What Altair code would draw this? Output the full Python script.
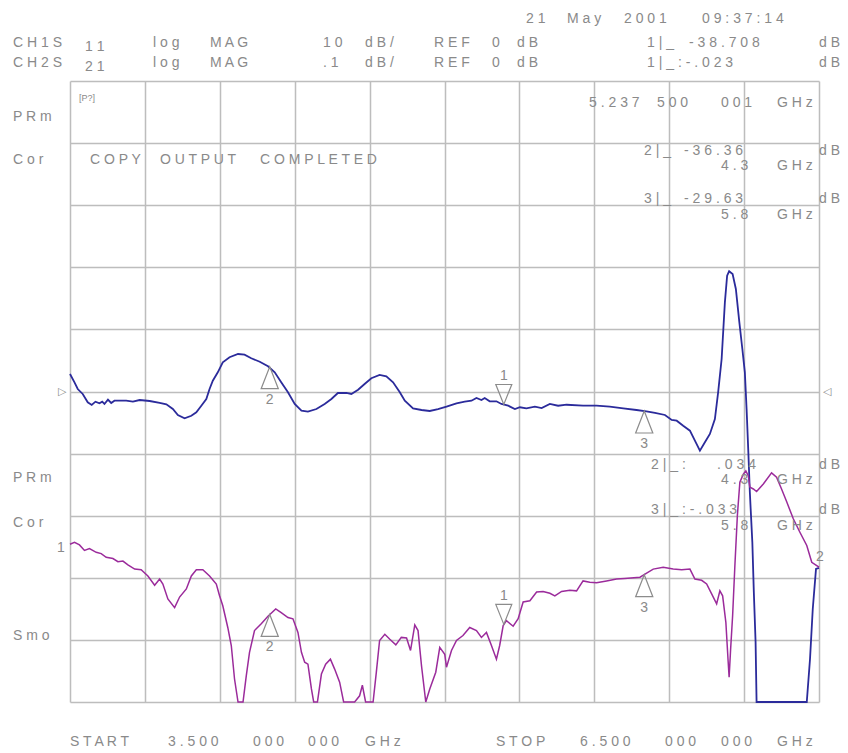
import altair as alt
import pandas as pd

# ---------------- data ----------------
# CH1: S11, log MAG, 10 dB/div, REF 0 dB (centre line)
s11_freq = [3.500, 3.518, 3.531, 3.551, 3.571, 3.587, 3.602, 3.618, 3.629, 3.638, 3.652, 3.665, 3.678,
            3.725, 3.752, 3.779, 3.819, 3.859, 3.886, 3.912, 3.932, 3.959, 3.986,
            4.006, 4.026, 4.046, 4.059, 4.072, 4.092, 4.112, 4.139, 4.173, 4.199,
            4.226, 4.260, 4.293, 4.320, 4.346, 4.373, 4.400, 4.427, 4.453, 4.487,
            4.520, 4.547, 4.573, 4.607, 4.627, 4.654,
            4.680, 4.707, 4.740, 4.767, 4.794, 4.821, 4.841, 4.874, 4.908, 4.941,
            4.974, 5.008, 5.048, 5.081, 5.108, 5.128, 5.148, 5.161, 5.181, 5.208,
            5.228, 5.255, 5.282, 5.302, 5.328, 5.362, 5.389, 5.422, 5.455, 5.489,
            5.555, 5.609, 5.662, 5.716, 5.769, 5.809,
            5.843, 5.883, 5.910, 5.930, 5.956, 5.983, 6.003, 6.023, 6.043, 6.063,
            6.083, 6.096, 6.110, 6.123, 6.132, 6.140, 6.154, 6.167, 6.181, 6.193,
            6.203, 6.210, 6.217, 6.223, 6.233, 6.239, 6.246, 6.250,
            6.451, 6.464, 6.475, 6.488, 6.500]
s11_db = [2.82, 1.48, 0.40, -0.40, -1.74, -2.17, -1.64, -1.90, -1.64, -2.01, -1.32, -1.85, -1.48,
          -1.48, -1.64, -1.37, -1.53, -1.85, -2.06, -2.82, -3.78, -4.32, -3.90,
          -3.35, -2.29, -1.21, 0.40, 1.74, 3.09, 4.70, 5.51, 6.04, 5.93,
          5.35, 4.80, 4.06, 3.09, 1.48, -0.13, -2.01, -3.09, -3.25, -2.82,
          -2.01, -1.21, -0.24, -0.24, -0.40, 0.29,
          1.21, 2.13, 2.66, 2.45, 1.48, -0.13, -1.48, -2.71, -2.98, -3.14,
          -2.82, -2.45, -1.90, -1.64, -1.48, -1.05, -1.37, -1.05, -1.58, -1.58,
          -2.01, -2.29, -2.82, -2.54, -2.71, -2.45, -2.66, -2.01, -2.29, -2.13,
          -2.29, -2.29, -2.45, -2.71, -2.98, -3.19,
          -3.46, -3.78, -4.59, -4.70, -5.51, -6.31, -7.92, -9.53, -8.18, -6.84,
          -4.43, -0.13, 5.23, 14.36, 18.65, 19.36, 18.92, 16.51, 11.14, 6.84,
          3.09, -2.82, -9.79, -16.23, -24.28, -32.34, -40.39, -50.0,
          -50.0, -43.08, -35.02, -28.58, -28.40]

# CH2: S21, log MAG, .1 dB/div, REF 0 dB (centre line); -0.5 dB = bottom of screen
s21_freq = [3.500, 3.518, 3.538, 3.558, 3.578, 3.605, 3.625, 3.645, 3.672, 3.692,
            3.712, 3.732, 3.759, 3.785, 3.812, 3.839, 3.859, 3.872, 3.892, 3.919,
            3.939, 3.966, 3.986, 4.006, 4.032, 4.059, 4.086, 4.099, 4.112, 4.132,
            4.146, 4.159, 4.173, 4.193, 4.206, 4.219, 4.239, 4.266, 4.293, 4.324,
            4.346, 4.373, 4.393, 4.413, 4.427, 4.440, 4.453, 4.467, 4.476, 4.491,
            4.507, 4.524, 4.543, 4.560, 4.580, 4.596, 4.640, 4.660, 4.671, 4.684,
            4.714, 4.727, 4.740, 4.761, 4.781, 4.805, 4.827, 4.848, 4.864, 4.881,
            4.894, 4.908, 4.925, 4.941, 4.965, 4.981, 5.001, 5.008, 5.028, 5.048,
            5.074, 5.101, 5.128, 5.148, 5.168, 5.188, 5.208, 5.221, 5.235, 5.248,
            5.275, 5.295, 5.315, 5.342, 5.369, 5.395, 5.422, 5.442, 5.469, 5.502,
            5.529, 5.555, 5.582, 5.609, 5.649, 5.689, 5.722, 5.783, 5.803, 5.836,
            5.876, 5.916, 5.950, 5.983, 6.003, 6.030, 6.050, 6.070, 6.090, 6.103,
            6.114, 6.127, 6.136, 6.140, 6.146, 6.154, 6.163, 6.173, 6.183, 6.197,
            6.207, 6.217, 6.223, 6.237, 6.250, 6.277, 6.310, 6.330, 6.350, 6.371,
            6.397, 6.424, 6.451, 6.471, 6.500]
s21_db = [-0.246, -0.243, -0.247, -0.256, -0.253, -0.259, -0.261, -0.267, -0.269, -0.274,
          -0.273, -0.279, -0.286, -0.287, -0.297, -0.312, -0.302, -0.310, -0.334, -0.348,
          -0.331, -0.318, -0.297, -0.287, -0.287, -0.297, -0.310, -0.329, -0.345, -0.380,
          -0.409, -0.463, -0.500, -0.500, -0.458, -0.420, -0.385, -0.374, -0.362, -0.350,
          -0.356, -0.364, -0.366, -0.388, -0.420, -0.436, -0.439, -0.479, -0.500, -0.500,
          -0.455, -0.439, -0.431, -0.447, -0.468, -0.500, -0.500, -0.490, -0.473, -0.500,
          -0.500, -0.452, -0.401, -0.391, -0.399, -0.408, -0.396, -0.397, -0.417, -0.376,
          -0.385, -0.442, -0.500, -0.479, -0.452, -0.412, -0.423, -0.444, -0.417, -0.401,
          -0.393, -0.380, -0.385, -0.396, -0.388, -0.409, -0.431, -0.409, -0.377, -0.369,
          -0.378, -0.366, -0.339, -0.337, -0.323, -0.322, -0.325, -0.329, -0.322, -0.320,
          -0.321, -0.305, -0.307, -0.308, -0.305, -0.302, -0.301, -0.299, -0.294, -0.286,
          -0.283, -0.286, -0.287, -0.286, -0.302, -0.304, -0.310, -0.326, -0.342, -0.321,
          -0.329, -0.372, -0.434, -0.460, -0.415, -0.361, -0.281, -0.200, -0.146, -0.133,
          -0.128, -0.136, -0.154, -0.157, -0.161, -0.149, -0.131, -0.138, -0.157, -0.178,
          -0.205, -0.227, -0.248, -0.275, -0.283]

# markers 1..3 (frequency in GHz, trace value at the marker)
marker_id = ["1", "2", "3"]
marker_freq = [5.2375, 4.3, 5.8]
marker_s11 = [-2.09, 4.0, -3.14]
marker_s21 = [-0.375, -0.359, -0.295]

# graticule: 10 x 10 divisions
x_grid = [3.5, 3.8, 4.1, 4.4, 4.7, 5.0, 5.3, 5.6, 5.9, 6.2, 6.5]
s11_grid = [-50, -40, -30, -20, -10, 0, 10, 20, 30, 40, 50]

# screen text (page x of left edge, page y of centre, text)
screen_text = [
    (526, 19, "2 1"), (567, 19, "M a y"), (624, 19, "2 0 0 1"), (702, 19, "0 9 : 3 7 : 1 4"),
    (13, 43, "C H 1 S"), (85, 47, "1 1"), (153, 43, "l o g"), (210, 43, "M A G"),
    (323, 43, "1 0"), (365, 43, "d B /"), (434, 43, "R E F"), (492, 43, "0"), (517, 43, "d B"),
    (647, 43, "1 | _"), (689, 43, "- 3 8 . 7 0 8"), (819, 43, "d B"),
    (13, 63, "C H 2 S"), (85, 67, "2 1"), (153, 63, "l o g"), (210, 63, "M A G"),
    (323, 63, ". 1"), (365, 63, "d B /"), (434, 63, "R E F"), (492, 63, "0"), (517, 63, "d B"),
    (647, 63, "1 | _ : - . 0 2 3"), (819, 63, "d B"),
    (589, 103, "5 . 2 3 7"), (657, 103, "5 0 0"), (721, 103, "0 0 1"), (777, 103, "G H z"),
    (13, 117, "P R m"), (13, 160, "C o r"),
    (90, 160, "C O P Y"), (160, 160, "O U T P U T"), (260, 160, "C O M P L E T E D"),
    (644, 151, "2 | _"), (684, 151, "- 3 6 . 3 6"), (819, 151, "d B"),
    (721, 166, "4 . 3"), (777, 166, "G H z"),
    (644, 199, "3 | _"), (684, 199, "- 2 9 . 6 3"), (819, 199, "d B"),
    (721, 215, "5 . 8"), (777, 215, "G H z"),
    (651, 465, "2 | _ :"), (717, 465, ". 0 3 4"), (819, 465, "d B"),
    (721, 480, "4 . 3"), (777, 480, "G H z"),
    (651, 510, "3 | _ : - . 0 3 3"), (819, 510, "d B"),
    (721, 526, "5 . 8"), (777, 526, "G H z"),
    (13, 478, "P R m"), (13, 523, "C o r"), (13, 636, "S m o"),
    (57, 548, "1"), (816, 557, "2"),
    (70, 742, "S T A R T"), (168, 742, "3 . 5 0 0"), (253, 742, "0 0 0"), (308, 742, "0 0 0"),
    (365, 742, "G H z"),
    (496, 742, "S T O P"), (580, 742, "6 . 5 0 0"), (665, 742, "0 0 0"), (721, 742, "0 0 0"),
    (777, 742, "G H z"),
]

# ---------------- layout / style ----------------
W, H = 749, 621
LEFT, TOP = 70, 81
GRID = "#bdbdbd"
INK = "#8a8a8a"
BLUE = "#2b2b9b"
PURPLE = "#9b2b9b"
MARK = "#8c8c8c"
FONT = "Liberation Sans, Arial, Helvetica, sans-serif"
UP = "M0,0L-0.39,1L0.39,1Z"
DOWN = "M0,0L-0.4,-1L0.4,-1Z"

s11 = pd.DataFrame({"freq": s11_freq, "db": s11_db})
s21 = pd.DataFrame({"freq": s21_freq, "db": s21_db})
mk1 = pd.DataFrame({"id": marker_id, "freq": marker_freq, "db": marker_s11})
mk2 = pd.DataFrame({"id": marker_id, "freq": marker_freq, "db": marker_s21})
refs = pd.DataFrame({"freq": [3.5, 6.5], "db": [0, 0], "t": ["▷", "◁"]})
ann = pd.DataFrame(screen_text, columns=["px", "py", "t"])
ann["px"] = ann["px"] - LEFT
ann["py"] = ann["py"] - TOP

x_enc = alt.X("freq:Q", scale=alt.Scale(domain=[3.5, 6.5], nice=False, zero=False),
              axis=alt.Axis(values=x_grid, grid=True, gridColor=GRID, gridWidth=1.5,
                            labels=False, ticks=False, domain=False, title=None))
y1_enc = alt.Y("db:Q", scale=alt.Scale(domain=[-50, 50], nice=False, zero=False),
               axis=alt.Axis(values=s11_grid, grid=True, gridColor=GRID, gridWidth=1.5,
                             labels=False, ticks=False, domain=False, title=None))
y2_enc = alt.Y("db:Q", scale=alt.Scale(domain=[-0.5, 0.5], nice=False, zero=False), axis=None)


def marker_layers(df, y_enc):
    up = df[df["id"] != "1"]
    down = df[df["id"] == "1"]
    return [
        alt.Chart(up).mark_point(shape=UP, size=1936, filled=False, color=MARK,
                                 strokeWidth=1.2, opacity=1).encode(x=x_enc, y=y_enc),
        alt.Chart(down).mark_point(shape=DOWN, size=1600, filled=False, color=MARK,
                                   strokeWidth=1.2, opacity=1).encode(x=x_enc, y=y_enc),
        alt.Chart(up).mark_text(dy=33, font=FONT, fontSize=14, color=INK).encode(
            x=x_enc, y=y_enc, text="id:N"),
        alt.Chart(down).mark_text(dy=-28, font=FONT, fontSize=14, color=INK).encode(
            x=x_enc, y=y_enc, text="id:N"),
    ]


ch1 = alt.layer(
    alt.Chart(s11).mark_line(color=BLUE, strokeWidth=1.8).encode(x=x_enc, y=y1_enc),
    *marker_layers(mk1, y1_enc),
    alt.Chart(refs[refs["freq"] < 5]).mark_text(dx=-8, fontSize=11, color=INK).encode(
        x=x_enc, y=y1_enc, text="t:N"),
    alt.Chart(refs[refs["freq"] > 5]).mark_text(dx=8, fontSize=11, color=INK).encode(
        x=x_enc, y=y1_enc, text="t:N"),
)

ch2 = alt.layer(
    alt.Chart(s21).mark_line(color=PURPLE, strokeWidth=1.5).encode(x=x_enc, y=y2_enc),
    *marker_layers(mk2, y2_enc),
)

labels = alt.Chart(ann).mark_text(align="left", baseline="middle", font=FONT, fontSize=14,
                                  color=INK).encode(
    x=alt.X("px:Q", scale=None, axis=None),
    y=alt.Y("py:Q", scale=None, axis=None),
    text="t:N",
)

icon = alt.Chart(pd.DataFrame({"t": ["[P?]"]})).mark_text(
    align="left", baseline="middle", font=FONT, fontSize=9, color=INK
).encode(x=alt.value(79 - LEFT), y=alt.value(98 - TOP), text="t:N")

chart = alt.layer(ch1, ch2, labels, icon).resolve_scale(y="independent").properties(
    width=W, height=H,
    padding={"left": LEFT, "top": TOP, "right": 848 - LEFT - W, "bottom": 753 - TOP - H},
    autosize=alt.AutoSizeParams(type="none"),
    background="white",
).configure_view(stroke=None)

chart.save("out.html", embed_options={"renderer": "svg", "actions": False})
